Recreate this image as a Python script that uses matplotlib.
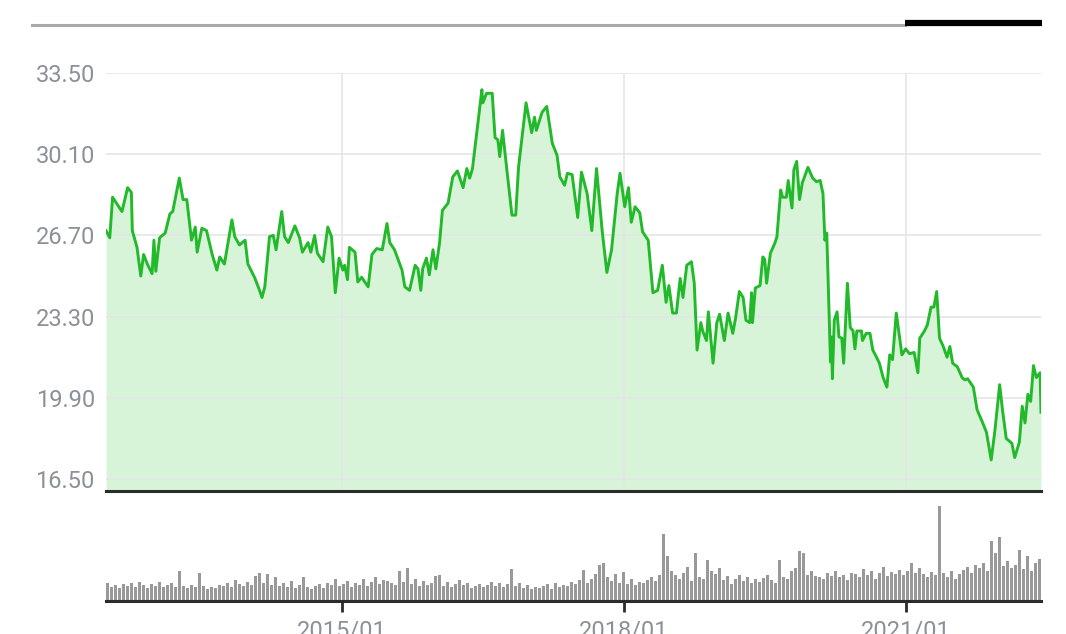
import numpy as np
import matplotlib.pyplot as plt
from matplotlib.lines import Line2D

plt.rcParams["font.family"] = ["Roboto", "DejaVu Sans"]

# -----------------------------------------------------
# Data
# -----------------------------------------------------

years = [
    2012.49, 2012.53, 2012.56, 2012.66, 2012.72, 2012.76, 2012.77, 2012.82, 2012.86, 2012.89,
    2012.93, 2012.98, 2013.00, 2013.02, 2013.06, 2013.12, 2013.17, 2013.20, 2013.27, 2013.31,
    2013.35, 2013.40, 2013.44, 2013.46, 2013.51, 2013.56, 2013.62, 2013.67, 2013.70, 2013.75,
    2013.83, 2013.86, 2013.91, 2013.97, 2014.00, 2014.07, 2014.11, 2014.15, 2014.18, 2014.23,
    2014.27, 2014.30, 2014.36, 2014.39, 2014.43, 2014.50, 2014.55, 2014.58, 2014.64, 2014.67,
    2014.71, 2014.74, 2014.80, 2014.85, 2014.89, 2014.93, 2014.97, 2015.01, 2015.03, 2015.06,
    2015.08, 2015.14, 2015.17, 2015.21, 2015.28, 2015.32, 2015.37, 2015.43, 2015.48, 2015.51,
    2015.56, 2015.64, 2015.67, 2015.72, 2015.78, 2015.81, 2015.84, 2015.86, 2015.90, 2015.93,
    2015.97, 2016.00, 2016.04, 2016.07, 2016.13, 2016.18, 2016.23, 2016.29, 2016.33, 2016.36,
    2016.39, 2016.49, 2016.50, 2016.54, 2016.60, 2016.63, 2016.66, 2016.68, 2016.71, 2016.76,
    2016.81, 2016.85, 2016.88, 2016.96, 2017.02, 2017.05, 2017.07, 2017.13, 2017.18, 2017.24,
    2017.29, 2017.32, 2017.37, 2017.40, 2017.45, 2017.51, 2017.55, 2017.61, 2017.66, 2017.71,
    2017.77, 2017.82, 2017.87, 2017.93, 2017.96, 2018.01, 2018.05, 2018.08, 2018.12, 2018.17,
    2018.20, 2018.26, 2018.31, 2018.36, 2018.41, 2018.45, 2018.48, 2018.52, 2018.56, 2018.60,
    2018.63, 2018.67, 2018.72, 2018.75, 2018.78, 2018.82, 2018.84, 2018.88, 2018.90, 2018.95,
    2018.99, 2019.02, 2019.07, 2019.11, 2019.16, 2019.19, 2019.23, 2019.27, 2019.30, 2019.34,
    2019.36, 2019.37, 2019.40, 2019.45, 2019.48, 2019.50, 2019.52, 2019.56, 2019.61, 2019.63,
    2019.67, 2019.69, 2019.73, 2019.75, 2019.79, 2019.81, 2019.84, 2019.87, 2019.90, 2019.96,
    2020.01, 2020.05, 2020.09, 2020.12, 2020.14, 2020.16, 2020.18, 2020.20, 2020.21, 2020.22,
    2020.24, 2020.27, 2020.29, 2020.32, 2020.34, 2020.38, 2020.41, 2020.44, 2020.46, 2020.48,
    2020.53, 2020.54, 2020.58, 2020.62, 2020.65, 2020.69, 2020.72, 2020.76, 2020.80, 2020.83,
    2020.86, 2020.90, 2020.96, 2021.00, 2021.04, 2021.09, 2021.13, 2021.15, 2021.20, 2021.23,
    2021.27, 2021.30, 2021.33, 2021.36, 2021.40, 2021.44, 2021.47, 2021.50, 2021.55, 2021.60,
    2021.63, 2021.66, 2021.72, 2021.76, 2021.82, 2021.86, 2021.91, 2021.95, 2022.00, 2022.03,
    2022.07, 2022.13, 2022.16, 2022.21, 2022.24, 2022.27, 2022.30, 2022.33, 2022.36, 2022.39,
    2022.43, 2022.44,
]

price = [
    26.90, 26.60, 28.30, 27.70, 28.70, 28.50, 26.90, 26.20, 25.00, 25.90,
    25.50, 25.10, 26.50, 25.20, 26.60, 26.80, 27.60, 27.70, 29.10, 28.20,
    28.20, 26.50, 27.05, 26.00, 27.00, 26.90, 25.90, 25.25, 25.80, 25.50,
    27.35, 26.65, 26.30, 26.50, 25.50, 24.95, 24.55, 24.10, 24.55, 26.65,
    26.70, 26.10, 27.70, 26.65, 26.40, 27.10, 26.60, 26.00, 26.40, 26.00,
    26.70, 25.95, 25.60, 27.05, 26.65, 24.30, 25.75, 25.25, 25.45, 24.85,
    26.20, 26.00, 24.75, 24.95, 24.55, 25.90, 26.15, 26.10, 27.20, 26.40,
    26.10, 25.25, 24.55, 24.40, 25.45, 25.30, 24.40, 25.30, 25.75, 25.05,
    26.10, 25.30, 26.40, 27.75, 28.05, 29.15, 29.40, 28.70, 29.50, 29.10,
    29.50, 32.80, 32.25, 32.65, 32.65, 30.80, 30.70, 30.00, 31.10, 29.30,
    27.55, 27.55, 29.55, 32.25, 31.00, 31.65, 31.10, 31.85, 32.10, 30.55,
    30.05, 29.15, 28.80, 29.30, 29.25, 27.45, 29.35, 28.45, 26.90, 29.50,
    26.90, 25.15, 26.10, 28.45, 29.30, 27.90, 28.70, 27.25, 27.90, 27.65,
    26.85, 26.50, 24.30, 24.40, 25.45, 23.90, 24.60, 23.45, 23.45, 24.90,
    24.10, 25.45, 25.60, 24.70, 21.90, 23.05, 22.70, 22.30, 23.50, 21.35,
    23.05, 23.40, 22.30, 23.45, 22.60, 23.25, 24.35, 24.10, 23.15, 23.05,
    24.30, 23.05, 24.50, 24.60, 25.80, 25.70, 24.70, 25.95, 26.40, 26.65,
    28.60, 28.30, 28.30, 29.00, 27.85, 29.45, 29.80, 28.20, 28.90, 29.55,
    29.10, 28.95, 29.00, 28.45, 26.50, 26.80, 24.10, 21.40, 22.45, 20.70,
    23.15, 23.50, 22.45, 22.40, 21.35, 24.70, 22.85, 22.70, 21.95, 22.70,
    22.70, 22.30, 22.60, 22.60, 21.90, 21.60, 21.35, 20.75, 20.35, 21.70,
    21.50, 23.45, 21.70, 21.95, 21.75, 21.80, 20.95, 22.40, 22.70, 22.95,
    23.70, 23.70, 24.35, 22.40, 22.05, 21.60, 22.05, 21.35, 21.20, 20.75,
    20.65, 20.70, 20.35, 19.40, 18.85, 18.45, 17.30, 18.55, 20.45, 19.40,
    18.20, 18.00, 17.40, 18.05, 19.55, 18.85, 20.05, 19.75, 21.25, 20.75,
    20.95, 19.30,
]

# weekly-ish volume bars, evenly spaced from first to last date
volume = [
    18, 14, 16, 13, 17, 15, 18, 14, 19, 16, 13, 17, 15, 19, 14, 16, 18, 14, 30, 15,
    13, 16, 14, 28, 15, 12, 14, 13, 16, 15, 18, 14, 21, 17, 15, 19, 16, 25, 28, 18,
    27, 16, 24, 15, 18, 14, 20, 13, 16, 24, 14, 12, 15, 17, 13, 18, 16, 22, 15,
    17, 20, 14, 18, 16, 22, 15, 19, 24, 17, 21, 20, 18, 16, 30, 19, 33, 17, 22, 15,
    20, 16, 18, 25, 26, 15, 19, 14, 17, 21, 16, 18, 13, 15, 17, 14, 16, 19, 15, 18,
    14, 17, 32, 15, 18, 13, 16, 12, 14, 13, 15, 17, 12, 18, 14, 16, 15, 19, 17, 21,
    31, 18, 22, 27, 36, 38, 24, 20, 27, 18, 29, 17, 22, 16, 19, 18, 21, 24, 20, 26,
    67, 45, 30, 26, 22, 28, 34, 20, 48, 24, 22, 41, 30, 27, 33, 21, 25, 17, 22, 26,
    20, 24, 18, 22, 19, 23, 26, 21, 18, 41, 24, 22, 30, 33, 50, 48, 26, 30, 25, 24,
    22, 28, 25, 30, 24, 26, 21, 28, 27, 24, 32, 26, 30, 22, 28, 34, 25, 29, 27, 31,
    26, 30, 38, 28, 33, 27, 24, 29, 26, 95, 28, 24, 30, 22, 27, 31, 34, 28, 36, 33,
    38, 30, 60, 48, 64, 35, 40, 33, 36, 51, 32, 45, 30, 38, 42,
]
vol_start, vol_end = 2012.51, 2022.42

tick_years = [2015, 2018, 2021]
tick_labels = ["2015/01", "2018/01", "2021/01"]
y_ticks = [16.50, 19.90, 23.30, 26.70, 30.10, 33.50]

# -----------------------------------------------------
# Figure
# -----------------------------------------------------

W, H = 1066, 634
fig = plt.figure(figsize=(W / 100, H / 100), dpi=100)
fig.patch.set_facecolor("white")

def box(x0, y0, x1, y1):
    return [x0 / W, 1 - y1 / H, (x1 - x0) / W, (y1 - y0) / H]

label_color = "#8c9199"
grid_color = "#e4e5e7"

ax = fig.add_axes(box(106, 73, 1041, 491))
vax = fig.add_axes(box(106, 505, 1041, 601), sharex=ax)

# price line + fill
ax.fill_between(years, price, 16.0, color="#d8f4d8", lw=0, zorder=1)
ax.plot(years, price, color="#22b92a", lw=2.1, zorder=3, solid_joinstyle="round")

ax.set_xlim(2012.49, 2022.44)
ax.set_ylim(16.0, 33.5)
ax.set_yticks(y_ticks)
ax.set_yticklabels([f"{v:.2f}" for v in y_ticks], fontsize=17, color=label_color)
ax.set_xticks(tick_years)
ax.tick_params(axis="x", length=0, labelbottom=False)
ax.tick_params(axis="y", length=0, pad=8)
ax.grid(True, color=grid_color, lw=1.2, zorder=2)
ax.set_axisbelow(False)
for s in ["top", "right", "left"]:
    ax.spines[s].set_visible(False)
ax.spines["bottom"].set_color("#2b2b2b")
ax.spines["bottom"].set_linewidth(2.2)
ax.spines["bottom"].set_zorder(5)

# volume bars
vol_x = np.linspace(vol_start, vol_end, len(volume))
step = vol_x[1] - vol_x[0]
vax.bar(vol_x, volume, width=step * 0.72, color="#999999", lw=0)
vax.set_ylim(0, 96)
vax.set_yticks([])
vax.set_xticks(tick_years)
vax.set_xticklabels(tick_labels, fontsize=17, color=label_color)
vax.tick_params(axis="x", length=8, width=2, color="#2b2b2b", pad=5)
for s in ["top", "right", "left"]:
    vax.spines[s].set_visible(False)
vax.spines["bottom"].set_color("#2b2b2b")
vax.spines["bottom"].set_linewidth(2.2)
vax.patch.set_alpha(0)

# tab bar decoration at the top
fig.add_artist(Line2D([32 / W, 905 / W], [1 - 24.5 / H] * 2, color="#a9a9a9", lw=2.2))
fig.add_artist(Line2D([905 / W, 1042 / W], [1 - 22.5 / H] * 2, color="black", lw=4.5,
                      solid_capstyle="butt"))

fig.savefig("out.png", dpi=100)
plt.close(fig)
